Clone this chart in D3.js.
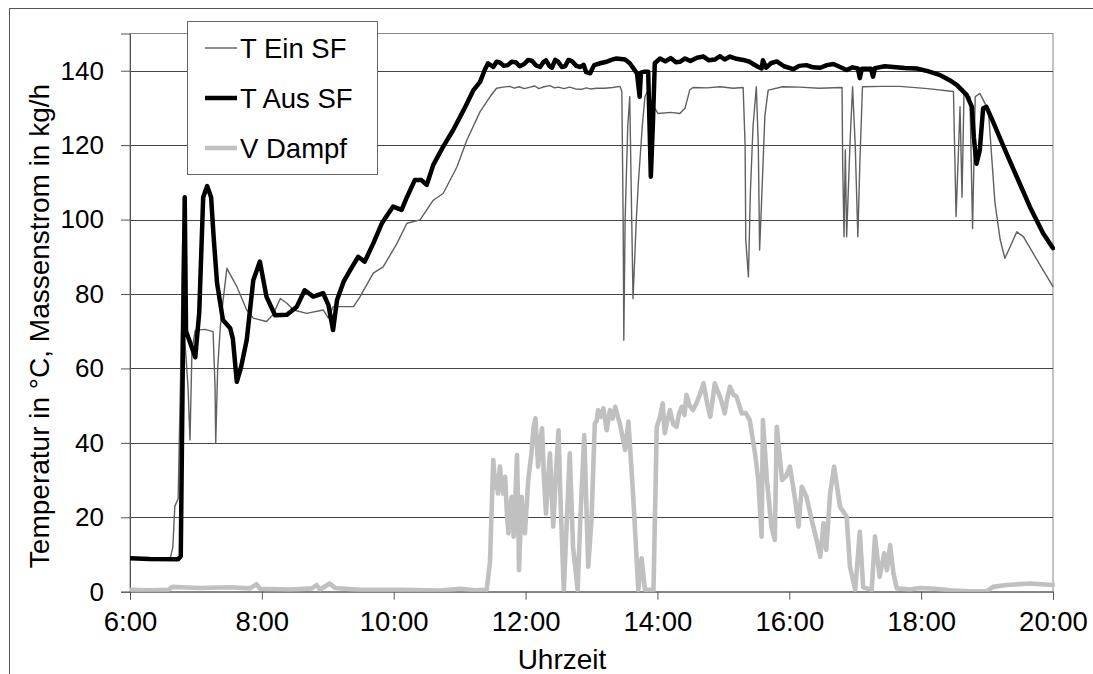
<!DOCTYPE html>
<html>
<head>
<meta charset="utf-8">
<script src="https://cdn.jsdelivr.net/npm/d3@7"></script>
<style>
  html, body { margin: 0; padding: 0; background: #fff; }
  svg { display: block; font-family: "Liberation Sans", Arial, sans-serif; }
</style>
</head>
<body>
<svg id="chart" width="1093" height="674"></svg>
<script>
// ---- data (time in decimal hours, value) ----
const xTickLabels = ["6:00","8:00","10:00","12:00","14:00","16:00","18:00","20:00"];
const xTickValues = [6,8,10,12,14,16,18,20];
const yTickValues = [0,20,40,60,80,100,120,140];
const seriesNames = ["T Ein SF","T Aus SF","V Dampf"];

const tEinSF = [
 [6.00,9.0],[6.30,9.0],[6.61,9.0],[6.65,12],[6.68,23],[6.73,25],[6.77,60],[6.80,95],[6.83,68],[6.88,55],
 [6.91,40.8],[6.94,65],[6.99,70.3],[7.14,70.5],[7.26,69.9],[7.29,55],[7.30,39.9],[7.33,60],[7.37,71.2],
 [7.41,78],[7.47,86.9],[7.62,82],[7.77,75.7],[7.87,73.5],[8.07,72.6],[8.17,74.4],[8.28,78.8],[8.38,77.5],
 [8.48,75.7],[8.68,74.8],[8.93,75.7],[9.01,73.5],[9.08,76.6],[9.39,76.6],[9.49,79.3],[9.69,85.6],
 [9.84,87.3],[10.05,93.6],[10.20,99],[10.40,99.9],[10.60,105.2],[10.75,107],[10.96,114.2],[11.11,121.4],
 [11.31,129],[11.46,133],[11.56,135.3],[11.66,135.6],[11.76,135.8],[11.83,135.3],[11.90,135.7],[11.98,135.2],
 [12.07,135.6],[12.14,135.9],[12.20,135.2],[12.28,135.7],[12.37,136],[12.44,135.4],[12.50,135.6],
 [12.58,135.2],[12.67,135.6],[12.76,135.1],[12.85,135.0],[12.92,135.4],[12.98,135.1],[13.08,135.3],
 [13.20,135.3],[13.32,135.5],[13.43,135.8],[13.46,134.5],
 [13.48,100],[13.49,67.6],[13.51,100],[13.55,125],[13.58,133],[13.61,100],[13.63,78.8],[13.68,100],
 [13.71,109.7],[13.77,125],[13.81,133],[13.86,134.8],[13.92,131],[14.01,128.5],[14.20,128.8],[14.34,128.5],
 [14.42,130],[14.49,134.8],[14.54,135.5],[14.75,135.4],[14.95,135.7],[15.15,135.3],[15.30,135.5],[15.33,120],
 [15.34,94.5],[15.38,84.6],[15.41,107.5],[15.45,125],[15.50,135.7],[15.53,120],[15.55,91.8],[15.58,105],
 [15.63,128],[15.68,134.8],[15.90,135.7],[16.16,135.6],[16.45,135.3],[16.80,135.5],[16.81,115],[16.83,95.4],
 [16.85,118.7],[16.87,95.4],[16.92,120],[16.96,135.7],[17.00,120],[17.04,95.4],[17.07,115],[17.11,135.7],
 [17.40,135.8],[17.68,135.8],[18.10,135.2],[18.49,134.4],[18.53,100.8],[18.59,130.3],
 [18.62,106],[18.65,133.9],[18.74,133],[18.78,97.6],[18.82,133],[18.89,133.9],[19.02,129.4],[19.12,104.4],
 [19.20,94.5],[19.27,89.6],[19.35,92.7],[19.45,96.7],[19.55,95.4],[19.70,90.9],[19.85,86.4],[20.00,82]
];

const tAusSF = [
 [6.00,9.0],[6.30,8.8],[6.73,8.7],[6.77,9.5],[6.80,60],[6.83,106],[6.85,70],[6.91,67],[6.99,63],[7.05,75],
 [7.11,106],[7.17,109],[7.23,106],[7.27,95],[7.32,83],[7.41,73],[7.52,70.8],[7.56,68],[7.62,56.4],[7.68,60],
 [7.77,67.6],[7.87,83.7],[7.97,88.7],[8.07,79.3],[8.20,74.3],[8.38,74.4],[8.53,76.6],[8.65,81],[8.78,79.3],
 [8.93,80.2],[9.01,77],[9.08,70.3],[9.14,78.4],[9.24,83.3],[9.34,86.4],[9.46,90],[9.56,88.7],[9.69,93.6],
 [9.82,99],[9.99,103.5],[10.12,102.6],[10.20,106],[10.32,110.6],[10.42,110.6],[10.50,109.3],[10.60,114.7],
 [10.75,119.6],[10.90,124],[11.06,129.4],[11.21,134.8],[11.31,137],[11.38,140.2],[11.43,142],[11.51,141],
 [11.56,142.4],[11.61,142.2],[11.67,141.3],[11.73,141.5],[11.79,142.4],[11.85,142.3],[11.91,141.2],
 [11.98,141.8],[12.04,142.9],[12.10,142.6],[12.16,141.4],[12.22,141.0],[12.27,142.3],[12.31,142.8],
 [12.36,141.3],[12.40,140.8],[12.45,142.9],[12.49,142.5],[12.55,141.0],[12.60,141.2],[12.65,142.9],
 [12.70,142.6],[12.77,141.3],[12.83,141.0],[12.88,141.6],[12.92,139.6],[12.98,139.3],
 [13.04,141.5],[13.13,142.0],[13.23,142.4],[13.30,142.9],[13.38,143.3],[13.51,143],[13.58,142],[13.69,139.3],
 [13.73,133],[13.75,139.5],[13.79,139.7],[13.86,139.7],[13.90,111.5],[13.93,125],[13.96,142],[14.04,143.3],
 [14.12,142.5],[14.20,143.4],[14.28,142.3],[14.34,142.4],[14.42,143.3],[14.50,142.6],[14.60,143.5],
 [14.70,143.8],[14.78,142.8],[14.87,143],[14.95,143.9],[15.02,143.0],[15.10,143.8],[15.20,143.2],
 [15.30,142.9],[15.40,142.4],[15.47,141.6],[15.53,141],[15.58,140.6],[15.60,142.8],[15.65,140.8],
 [15.72,142.0],[15.81,142.5],[15.92,141.2],[16.06,140.4],[16.15,141.3],[16.26,141.5],[16.36,140.9],
 [16.47,140.8],[16.57,141.5],[16.67,141.8],[16.77,141.0],[16.87,140.2],[16.96,140.9],[17.04,140.6],
 [17.07,138],[17.10,140.5],[17.24,140.5],[17.27,138.4],[17.30,140.7],[17.45,141.2],[17.58,141],[17.75,140.7],
 [17.93,140.6],[18.10,139.9],[18.29,138.8],[18.42,137.6],
 [18.54,136.2],[18.69,133.5],[18.77,130.3],[18.80,122],[18.84,115],[18.89,118.7],[18.94,129.9],[18.99,130.3],
 [19.09,126.3],[19.25,119.6],[19.45,111.5],[19.65,103.4],[19.85,96.3],[20.00,92.3]
];

const vDampf = [
 [6.00,0.5],[6.30,0.4],[6.58,0.5],[6.64,1.3],[7.06,1.0],[7.52,1.2],[7.82,0.9],[7.92,2.0],[7.97,0.8],
 [8.43,0.6],[8.76,0.9],[8.83,1.8],[8.88,0.6],[9.03,2.2],[9.11,1.0],[9.49,0.5],[10.10,0.5],[10.70,0.3],
 [11.01,0.8],[11.23,0.4],[11.41,0.5],[11.46,8],[11.51,35.4],[11.54,28],[11.56,31],[11.58,26.4],[11.61,33.6],
 [11.64,28],[11.66,26.4],[11.69,30.9],[11.72,20],[11.74,15.7],[11.76,22],[11.79,25.5],[11.82,14.8],
 [11.85,28],[11.87,36.7],[11.89,20],[11.90,5.8],[11.94,25.5],[11.96,19],[11.99,15.7],[12.02,24],
 [12.04,30],[12.09,37.2],[12.12,44],[12.15,46.6],[12.19,33.6],[12.22,40],[12.25,43.9],[12.28,30],[12.31,21],
 [12.34,30],[12.37,37.2],[12.40,25],[12.42,17.5],[12.46,32],
 [12.50,43.4],[12.53,24.6],[12.58,0.5],[12.67,37.2],[12.72,12.1],[12.79,0.5],[12.83,19.3],[12.89,42.1],
 [12.95,6.7],[13.00,19.3],[13.05,45.2],[13.08,46],[13.10,48.8],[13.14,47],[13.18,49.3],[13.23,43.4],
 [13.28,48.8],[13.32,46.5],[13.36,49.7],[13.40,47],
 [13.43,45.2],[13.51,38.1],[13.56,45.7],[13.63,26.4],[13.71,0.5],[13.76,9],[13.81,0.5],[13.94,0.5],
 [13.99,44.3],[14.04,47],[14.08,50.6],[14.11,42.6],[14.15,46],[14.19,48.8],[14.24,45],[14.29,44.3],
 [14.33,48],[14.37,49.7],[14.41,47.5],[14.44,52.9],[14.49,50],
 [14.54,48.8],[14.60,51],[14.65,53.3],[14.70,56],[14.75,51],[14.80,47],[14.84,52],[14.87,56],[14.91,54],
 [14.95,52.4],[14.99,50],[15.02,47.9],[15.06,52],[15.10,55.1],[15.15,53],
 [15.20,52.4],[15.28,47.9],[15.34,48],[15.40,46.1],[15.48,37.2],[15.53,30],[15.58,14.8],[15.60,46.1],[15.66,30],
 [15.73,17.5],[15.78,13.9],[15.81,44.3],[15.89,30],[15.95,31],[16.01,33.6],[16.09,24.6],[16.14,17.5],[16.19,28.2],
 [16.26,25.5],[16.34,19.3],[16.40,15],[16.47,9.4],[16.52,18.4],[16.56,11.2],[16.62,26.4],[16.68,33.6],[16.77,22.8],
 [16.87,20.2],[16.92,6.7],[17.00,0.5],[17.07,16.1],[17.12,1.2],[17.25,0.5],[17.30,14.8],[17.37,4],
 [17.44,10.3],[17.48,5.8],[17.53,12.5],[17.58,4.9],[17.63,0.9],[17.83,0.6],[17.98,1.0],[18.21,0.8],
 [18.44,0.4],[18.74,0.1],[18.99,0.1],[19.09,1.3],[19.30,1.8],[19.65,2.2],[20.00,1.8]
];

// ---- layout ----
const svg = d3.select("#chart");
const L = 130, R = 1053, T = 33.5, B = 591.7;
const x = d3.scaleLinear().domain([6, 20]).range([L, R]);
const y = d3.scaleLinear().domain([0, 150]).range([B, T]);
const FONT = '"Liberation Sans", Arial, sans-serif';

// outer frame
svg.append("rect").attr("x", 9.5).attr("y", 8.5).attr("width", 1200).attr("height", 800)
  .attr("fill", "none").attr("stroke", "#555").attr("stroke-width", 1);

// plot frame (top/right)
svg.append("rect").attr("x", L).attr("y", T).attr("width", R - L).attr("height", B - T)
  .attr("fill", "none").attr("stroke", "#888").attr("stroke-width", 1);

// gridlines
svg.append("g").selectAll("line").data(yTickValues.filter(v => v > 0)).join("line")
  .attr("x1", L).attr("x2", R)
  .attr("y1", d => Math.round(y(d)) + 0.5).attr("y2", d => Math.round(y(d)) + 0.5)
  .attr("stroke", "#444").attr("stroke-width", 1);

// axes
const yAxis = d3.axisLeft(y).tickValues(yTickValues).tickSize(9).tickPadding(17).tickFormat(d3.format("d"));
const gy = svg.append("g").attr("transform", `translate(${L},0)`).call(yAxis);
gy.select(".domain").attr("stroke", "#555");
gy.selectAll(".tick line").attr("stroke", "#555");
gy.selectAll("text").attr("font-size", 26).attr("fill", "#000").attr("font-family", FONT);

const xAxis = d3.axisBottom(x).tickValues(xTickValues).tickSize(8).tickPadding(12)
  .tickFormat((d, i) => xTickLabels[i]);
const gx = svg.append("g").attr("transform", `translate(0,${B})`).call(xAxis);
gx.select(".domain").attr("stroke", "#555");
gx.selectAll(".tick line").attr("stroke", "#555");
gx.selectAll("text").attr("font-size", 27.5).attr("fill", "#000").attr("font-family", FONT);

// axis titles
svg.append("text").attr("transform", `translate(49,326) rotate(-90)`)
  .attr("text-anchor", "middle").attr("font-size", 28).attr("fill", "#000")
  .text("Temperatur in °C, Massenstrom in kg/h");
svg.append("text").attr("x", 562).attr("y", 669)
  .attr("text-anchor", "middle").attr("font-size", 28).attr("fill", "#000").text("Uhrzeit");

// clip
svg.append("clipPath").attr("id", "plotclip").append("rect")
  .attr("x", L).attr("y", T - 5).attr("width", R - L + 2).attr("height", B - T + 5);

const line = d3.line().x(d => x(d[0])).y(d => y(d[1]));
const styles = [
  { data: tEinSF, stroke: "#606060", width: 1.4 },
  { data: tAusSF, stroke: "#000000", width: 4.5 },
  { data: vDampf, stroke: "#c0c0c0", width: 4.6 }
];
const gl = svg.append("g").attr("clip-path", "url(#plotclip)");
[2, 0, 1].forEach(i => {
  gl.append("path").datum(styles[i].data).attr("d", line)
    .attr("fill", "none").attr("stroke", styles[i].stroke).attr("stroke-width", styles[i].width)
    .attr("stroke-linejoin", "round").attr("stroke-linecap", "round");
});

// legend
const lg = svg.append("g");
lg.append("rect").attr("x", 187.5).attr("y", 21.5).attr("width", 190).attr("height", 153)
  .attr("fill", "#fff").attr("stroke", "#666").attr("stroke-width", 1);
seriesNames.forEach((name, i) => {
  const cy = 48 + i * 50;
  lg.append("line").attr("x1", 205).attr("x2", 237).attr("y1", cy).attr("y2", cy)
    .attr("stroke", styles[i].stroke).attr("stroke-width", styles[i].width);
  lg.append("text").attr("x", 240).attr("y", cy + 9.5).attr("font-size", 27.5).attr("fill", "#000").text(name);
});
</script>
</body>
</html>
